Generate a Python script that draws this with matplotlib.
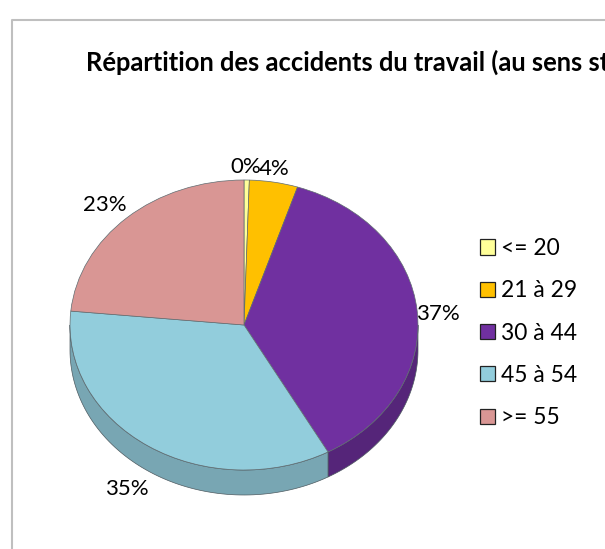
import numpy as np
import matplotlib.pyplot as plt
from matplotlib.patches import Patch, Polygon

plt.rcParams['font.family'] = ['Lato', 'DejaVu Sans']

title = "Répartition des accidents du travail (au sens st"
categories = ['<= 20', '21 à 29', '30 à 44', '45 à 54', '>= 55']
values = [0.49, 4.49, 37.0, 34.55, 23.47]
colors = ['#FFFF99', '#FFC000', '#7030A0', '#92CDDC', '#D99694']
side_colors = ['#B3B36B', '#B38600', '#552579', '#78A6B3', '#A87371']

W, H = 605, 549
# label anchors in pixels, same order as the categories
label_pos = [(246, 167), (274, 169), (438, 314), (127, 489), (105, 205)]


def px_axes(fig, left, top, width, height):
    return fig.add_axes([left / W, 1 - (top + height) / H, width / W, height / H])


fig = plt.figure(figsize=(W / 100, H / 100), dpi=100)

# chart border, runs off the right and bottom of the image
bg = px_axes(fig, 0, 0, W, H)
bg.set_xlim(0, W)
bg.set_ylim(H, 0)
bg.axis('off')
bg.plot([11.5, 11.5, W], [H, 19.5, 19.5], color='#BFBFBF', lw=1.5)
bg.text(86, 71, title, fontsize=18.4, fontweight='bold', color='black', ha='left', va='baseline')

ax = px_axes(fig, 70, 180, 348, 290)
depth = 25 / 145

# side wall first, only the front half of the pie shows it
edges = np.cumsum([0] + values) / sum(values) * 360
for i in range(len(values)):
    a0, a1 = edges[i], edges[i + 1]
    a0c, a1c = max(a0, 90), min(a1, 270)
    if a1c <= a0c:
        continue
    t = np.radians(90 - np.linspace(a0c, a1c, 80))
    x, y = np.cos(t), np.sin(t)
    pts = np.r_[np.c_[x, y], np.c_[x[::-1], y[::-1] - depth]]
    ax.add_patch(Polygon(pts, closed=True, facecolor=side_colors[i], edgecolor='#4d5a60', lw=0.5, clip_on=False))

wedges, _ = ax.pie(values, colors=colors, startangle=90, counterclock=False, radius=1,
                   wedgeprops={'edgecolor': '#5f6b70', 'linewidth': 0.5})
for w in wedges:
    w.set_clip_on(False)
ax.set_aspect('auto')
ax.set_xlim(-1, 1)
ax.set_ylim(-1, 1)

for v, pos in zip(values, label_pos):
    bg.text(pos[0], pos[1], "{:.0f}%".format(v / sum(values) * 100), fontsize=16, color='black',
            ha='center', va='center', zorder=5)

handles = [Patch(facecolor=c, edgecolor='#222222', lw=0.9) for c in colors]
bg.legend(handles, categories, loc='upper left', bbox_to_anchor=(480 / W, 1 - 238 / H), frameon=False,
          fontsize=16.4, handlelength=0.65, handleheight=0.65, handletextpad=0.28,
          labelspacing=0.935, borderpad=0, borderaxespad=0)

fig.savefig('out.png', dpi=100)
